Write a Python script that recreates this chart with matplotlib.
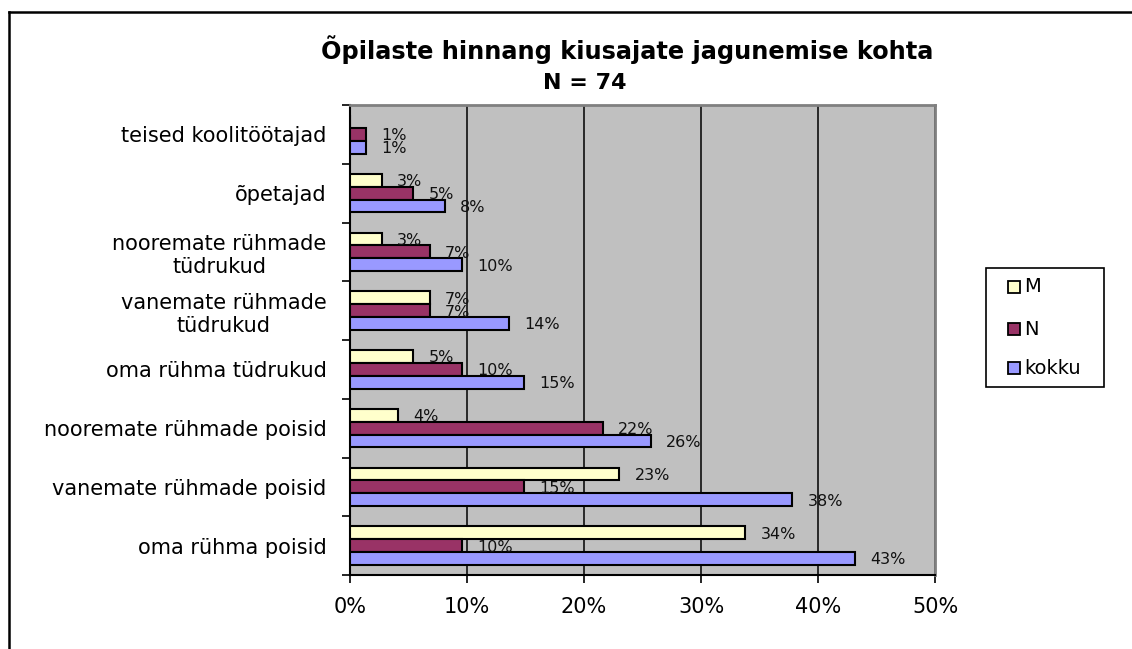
import matplotlib
matplotlib.use("Agg")
import matplotlib.pyplot as plt
from matplotlib.patches import Rectangle
from matplotlib.lines import Line2D
import numpy as np

# ---- data (percent of N = 74) ----
categories = [
    "oma rühma poisid",
    "vanemate rühmade poisid",
    "nooremate rühmade poisid",
    "oma rühma tüdrukud",
    "vanemate rühmade\ntüdrukud",
    "nooremate rühmade\ntüdrukud",
    "õpetajad",
    "teised koolitöötajad",
]
series_names = ["M", "N", "kokku"]
m_values = [33.8, 23.0, 4.1, 5.4, 6.8, 2.7, 2.7, 0.0]
n_values = [9.6, 14.9, 21.6, 9.6, 6.8, 6.8, 5.4, 1.4]
kokku_values = [43.2, 37.8, 25.7, 14.9, 13.6, 9.6, 8.1, 1.4]
x_ticks = [0, 10, 20, 30, 40, 50]
x_tick_labels = ["0%", "10%", "20%", "30%", "40%", "50%"]
title_line1 = "Õpilaste hinnang kiusajate jagunemise kohta"
title_line2 = "N = 74"

colors = ["#FFFFCC", "#993366", "#9999FF"]

W, H = 1132, 649
fig = plt.figure(figsize=(W / 100, H / 100), dpi=100)
fig.patch.set_facecolor("white")
plt.rcParams["font.family"] = ["DejaVu Sans"]

# outer chart border (top and left visible)
fig.add_artist(Line2D([9 / W, 1.0], [1 - 12 / H, 1 - 12 / H], transform=fig.transFigure,
                      color="black", lw=1.8))
fig.add_artist(Line2D([9 / W, 9 / W], [0.0, 1 - 12 / H], transform=fig.transFigure,
                      color="black", lw=1.8))

ax = fig.add_axes([350 / W, 74 / H, 585 / W, 470 / H])
ax.set_facecolor("#C0C0C0")

y = np.arange(len(categories))
h = 0.218
series = [m_values, n_values, kokku_values]
offsets = [h, 0.0, -h]
for vals, off, col in zip(series, offsets, colors):
    ax.barh(y + off, vals, height=h, color=col, edgecolor="black", linewidth=1.5, zorder=3)
    for yy, v in zip(y + off, vals):
        if v > 0:
            ax.annotate(f"{v:.0f}%", xy=(v, yy), xytext=(11, -1), textcoords="offset points",
                        ha="left", va="center", fontsize=11.5, color="#111111", zorder=4)

ax.set_xlim(0, 50)
ax.set_ylim(-0.5, len(categories) - 0.5)
ax.set_xticks(x_ticks)
ax.set_xticklabels(x_tick_labels, fontsize=15)
ax.set_yticks(y)
ax.set_yticklabels(categories, fontsize=15, ha="right", multialignment="center")
ax.set_yticks(np.arange(-0.5, len(categories), 1.0), minor=True)
ax.tick_params(axis="y", which="major", length=0, pad=17)
ax.tick_params(axis="y", which="minor", length=6, width=1.2, direction="out")
ax.tick_params(axis="x", which="major", length=6, width=1.2, direction="out", pad=10)
ax.xaxis.grid(True, color="black", linewidth=1.1, zorder=1)
ax.set_axisbelow(True)

for s in ["left", "bottom"]:
    ax.spines[s].set_color("black")
    ax.spines[s].set_linewidth(1.5)
for s in ["top", "right"]:
    ax.spines[s].set_color("#808080")
    ax.spines[s].set_linewidth(2)

# title
fig.text(627 / W, 1 - 50 / H, title_line1, ha="center", va="center", fontsize=17.3,
         fontweight="bold")
fig.text(585 / W, 1 - 83 / H, title_line2, ha="center", va="center", fontsize=16,
         fontweight="bold")

# legend (drawn manually to match the boxed Excel legend)
fig.add_artist(Rectangle((986 / W, 1 - 387 / H), 118 / W, 119 / H,
                         transform=fig.transFigure, facecolor="white",
                         edgecolor="black", linewidth=1.2))
row_centers = [287, 329, 368]
for name, col, rc in zip(series_names, colors, row_centers):
    fig.add_artist(Rectangle((1008 / W, 1 - (rc + 6) / H), 12 / W, 12 / H,
                             transform=fig.transFigure, facecolor=col,
                             edgecolor="black", linewidth=1.3))
    fig.text(1024 / W, 1 - rc / H, name, ha="left", va="center", fontsize=14)

fig.savefig("out.png", dpi=100)
